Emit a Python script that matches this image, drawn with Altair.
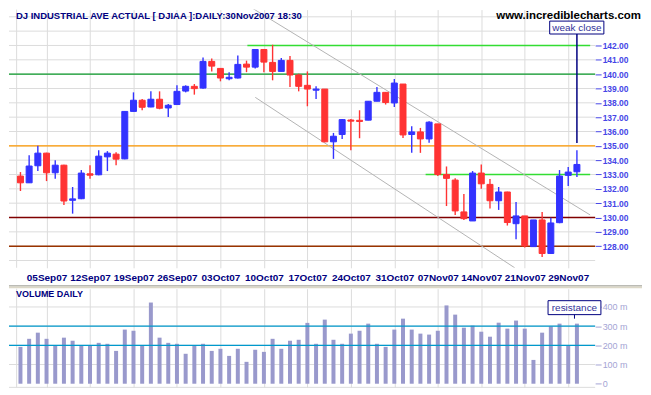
import altair as alt
import pandas as pd

# ---------------- data ----------------
tick_pos = [3, 8, 13, 18, 23, 28, 33, 38, 43, 48, 53, 58, 63]
tick_labels = ["05Sep07", "12Sep07", "19Sep07", "26Sep07", "03Oct07", "10Oct07",
               "17Oct07", "24Oct07", "31Oct07", "07Nov07", "14Nov07", "21Nov07", "29Nov07"]

opens = [132.89, 132.42, 133.61, 134.49, 133.12, 133.65, 131.20, 131.31, 133.05, 132.98,
         134.23, 134.42, 134.09, 137.40, 138.18, 137.71, 138.25, 137.64, 137.88, 138.82,
         139.15, 139.03, 140.89, 140.40, 139.68, 139.73, 140.70, 140.49, 141.72, 140.82,
         140.19, 140.96, 139.94, 139.22, 138.88, 138.96, 135.28, 135.79, 136.80, 136.78,
         136.79, 138.11, 138.73, 137.99, 139.31, 135.79, 135.97, 135.48, 136.53, 133.00,
         132.61, 130.39, 129.76, 133.10, 132.31, 131.17, 131.78, 129.57, 130.11, 127.97,
         129.83, 127.49, 129.64, 132.94, 133.19]
highs = [133.17, 134.35, 135.00, 134.52, 134.00, 133.68, 132.13, 133.31, 133.65, 134.70,
         134.63, 134.56, 137.40, 138.73, 138.27, 138.80, 138.80, 137.92, 139.22, 139.22,
         139.31, 141.17, 141.10, 140.40, 140.14, 141.30, 140.94, 141.72, 141.75, 142.05,
         141.12, 141.26, 140.03, 140.19, 139.15, 138.96, 135.90, 136.88, 136.88, 137.48,
         138.11, 139.10, 138.75, 139.66, 139.31, 136.37, 136.25, 136.71, 136.53, 133.56,
         132.73, 131.64, 133.24, 133.70, 132.68, 132.13, 131.80, 131.08, 130.11, 129.83,
         130.39, 129.99, 133.31, 133.52, 134.70]
lows = [131.85, 132.40, 133.24, 132.54, 132.70, 130.87, 130.27, 131.28, 132.70, 132.95,
        133.24, 133.65, 134.07, 137.40, 137.48, 137.69, 137.55, 137.01, 137.85, 138.73,
        138.57, 138.98, 140.19, 139.50, 139.57, 139.70, 140.14, 140.40, 140.14, 139.57,
        140.19, 139.10, 138.80, 137.76, 138.27, 135.25, 134.09, 135.48, 134.70, 135.53,
        136.79, 138.11, 137.88, 137.71, 135.55, 134.51, 134.51, 135.21, 132.89, 130.80,
        130.18, 129.83, 129.76, 132.01, 130.62, 130.53, 129.44, 128.49, 127.90, 127.97,
        127.25, 127.45, 129.60, 132.20, 132.82]
closes = [132.42, 133.59, 134.49, 133.12, 133.65, 131.15, 131.30, 133.10, 132.95, 134.28,
          134.49, 134.07, 137.40, 138.18, 137.69, 138.25, 137.62, 137.83, 138.80, 139.15,
          138.99, 140.89, 140.56, 139.73, 139.78, 140.68, 140.49, 141.72, 140.84, 140.19,
          140.96, 139.94, 139.15, 138.96, 138.96, 135.28, 135.67, 136.83, 136.72, 136.70,
          138.11, 138.73, 138.02, 139.38, 135.76, 135.97, 135.48, 136.65, 133.00, 132.73,
          130.46, 129.92, 133.10, 132.35, 131.17, 131.78, 129.65, 130.11, 128.02, 129.83,
          127.49, 129.62, 132.89, 133.17, 133.70]
volumes = [192, 234, 266, 234, 201, 240, 224, 201, 201, 213, 208, 171, 282, 276, 201, 423,
           240, 213, 208, 156, 201, 208, 171, 182, 145, 182, 114, 177, 166, 234, 182, 224,
           229, 317, 208, 334, 229, 208, 261, 276, 313, 208, 192, 282, 339, 282, 261, 256,
           276, 408, 360, 292, 303, 271, 245, 318, 287, 329, 287, 124, 266, 299, 313, 201, 313]

price_grid = [127, 128, 129, 130, 131, 132, 133, 134, 135, 136, 137, 138, 139, 140, 141, 142, 143, 144]
price_ticks = [128, 129, 130, 131, 132, 133, 134, 135, 136, 137, 138, 139, 140, 141, 142]
level_prices = [140, 135, 130, 128]
level_colors = ["#0a9a2a", "#ff9900", "#800000", "#993300"]
part_prices = [142, 133]
part_starts = [26.1, 46.6]
part_colors = ["#33dd33", "#33dd33"]
chan_seg = ["upper", "upper", "lower", "lower"]
chan_i = [25.43, 65.52, 27.01, 56.85]
chan_p = [145.06, 130.18, 138.38, 126.49]
vol_grid = [-19, 100, 200, 300, 400]
vol_ticks = [0, 100, 200, 300, 400]
vol_levels = [200, 300]

TITLE = "DJ INDUSTRIAL AVE ACTUAL [ DJIAA ]:DAILY:30Nov2007 18:30"
URL = "www.incrediblecharts.com"

# ---------------- layout / styles ----------------
X_DOM = [-0.744, 65.524]
P_DOM = [126.493, 144.503]
V_DOM = [-19.2, 495]
W, H_TOP, H_VOL = 588, 259, 99
FONT = "Liberation Sans"
BLUE, RED, NAVY = "#3333ff", "#ff3333", "#000080"
GRID = "#dcdcdc"

n = len(opens)
df = pd.DataFrame({"i": list(range(n)), "o": opens, "h": highs, "l": lows, "c": closes, "v": volumes})
df["dir"] = ["up" if c >= o else "down" for o, c in zip(opens, closes)]

label_expr = "[" + ",".join("'%s'" % s for s in tick_labels) + "][round((datum.value - 3) / 5)]"

xs = alt.Scale(domain=X_DOM, nice=False, zero=False)
x_axis_top = alt.Axis(values=tick_pos, labelExpr=label_expr, grid=True, gridColor=GRID, gridWidth=1,
                      ticks=False, tickSize=0, domain=False, labelFont=FONT, labelFontSize=10,
                      labelFontWeight="bold", labelColor=NAVY, labelPadding=5, title=None,
                      labelOverlap=False, labelFlush=False)
x_axis_vol = alt.Axis(values=tick_pos, grid=True, gridColor=GRID, gridWidth=1, ticks=False,
                      tickSize=0, domain=False, labels=False, title=None)
ps = alt.Scale(domain=P_DOM, nice=False, zero=False)
p_axis = alt.Axis(orient="right", values=price_ticks, format=".2f", grid=False, domain=False,
                  tickColor="#4646e6", tickSize=6, labelColor="#4646e6", labelFont=FONT,
                  labelFontSize=8.5, labelFontWeight="bold", labelPadding=1, title=None)
vs = alt.Scale(domain=V_DOM, nice=False, zero=False)
v_axis = alt.Axis(orient="right", values=vol_ticks,
                  labelExpr="datum.value == 0 ? '0' : datum.value + ' m'", grid=False,
                  domain=False, tickColor="#a4a4d4", tickSize=6, labelColor="#a4a4d4",
                  labelFont=FONT, labelFontSize=9, labelPadding=1, title=None)


def XT(f):
    return alt.X(f, type="quantitative", scale=xs, axis=x_axis_top)


def XV(f):
    return alt.X(f, type="quantitative", scale=xs, axis=x_axis_vol)


def YP(f):
    return alt.Y(f, type="quantitative", scale=ps, axis=p_axis)


def YV(f):
    return alt.Y(f, type="quantitative", scale=vs, axis=v_axis)


col = alt.Color("dir:N", scale=alt.Scale(domain=["up", "down"], range=[BLUE, RED]), legend=None)

# ---------------- top (price) panel ----------------
grid_df = pd.DataFrame({"p": price_grid})
hgrid = alt.Chart(grid_df).mark_rule(color=GRID, strokeWidth=1).encode(y=YP("p"))
border_df = pd.DataFrame({"i": [-0.44]})
vborder = alt.Chart(border_df).mark_rule(color=GRID, strokeWidth=1).encode(x=XT("i"))

lv_df = pd.DataFrame({"p": level_prices, "col": level_colors})
levels = alt.Chart(lv_df).mark_rule(strokeWidth=1.4).encode(
    y=YP("p"), color=alt.Color("col:N", scale=None))
pt_df = pd.DataFrame({"p": part_prices, "x0": part_starts, "x1": [X_DOM[1]] * 2, "col": part_colors})
partial = alt.Chart(pt_df).mark_rule(strokeWidth=1.4).encode(
    x=XT("x0"), x2="x1", y=YP("p"), color=alt.Color("col:N", scale=None))

ch_df = pd.DataFrame({"seg": chan_seg, "i": chan_i, "p": chan_p})
channel = alt.Chart(ch_df).mark_line(color="#b4b4b4", strokeWidth=1, clip=True).encode(
    x=XT("i"), y=YP("p"), detail="seg:N")

wicks = alt.Chart(df).mark_rule(strokeWidth=1.4).encode(x=XT("i"), y=YP("l"), y2="h", color=col)
bodies = alt.Chart(df).mark_bar(size=6, strokeWidth=1).encode(
    x=XT("i"), y=YP("o"), y2="c", color=col, stroke=col)

wc_df = pd.DataFrame({"i": [64], "p0": [135.2], "p1": [142.80]})
wc_line = alt.Chart(wc_df).mark_rule(color=NAVY, strokeWidth=1.5).encode(x=XT("i"), y=YP("p0"), y2="p1")
wcbox_df = pd.DataFrame({"x0": [60.87], "x1": [67.1], "p0": [143.70], "p1": [142.80],
                         "xc": [63.99], "pc": [143.25], "t": ["weak close"]})
wc_box = alt.Chart(wcbox_df).mark_rect(fill="white", stroke=NAVY, strokeWidth=1, clip=False).encode(
    x=XT("x0"), x2="x1", y=YP("p0"), y2="p1")
wc_text = alt.Chart(wcbox_df).mark_text(font=FONT, fontSize=10, color="#333399", align="center",
                                        baseline="middle").encode(x=XT("xc"), y=YP("pc"), text="t:N")

title_df = pd.DataFrame({"t": [TITLE]})
title = alt.Chart(title_df).mark_text(font=FONT, fontSize=9.5, fontWeight="bold", color=NAVY,
                                      align="left", baseline="top").encode(
    x=alt.value(7), y=alt.value(1), text="t:N")
url_df = pd.DataFrame({"t": [URL]})
url = alt.Chart(url_df).mark_text(font=FONT, fontSize=11.5, fontWeight="bold", color="black",
                                  align="right", baseline="alphabetic").encode(
    x=alt.value(634), y=alt.value(9.5), text="t:N")

top = alt.layer(hgrid, vborder, levels, partial, channel, wicks, bodies, wc_line, wc_box,
                wc_text, title, url).properties(width=W, height=H_TOP)

# ---------------- volume panel ----------------
vg_df = pd.DataFrame({"v": vol_grid})
vgrid = alt.Chart(vg_df).mark_rule(color=GRID, strokeWidth=1).encode(y=YV("v"))
vborder2 = alt.Chart(border_df).mark_rule(color=GRID, strokeWidth=1).encode(x=XV("i"))
vbars = alt.Chart(df).mark_bar(size=4, color="#9999cc").encode(x=XV("i"), y=YV("v"), y2=alt.datum(0))
vl_df = pd.DataFrame({"v": vol_levels})
vlevels = alt.Chart(vl_df).mark_rule(color="#0099cc", strokeWidth=1.4).encode(y=YV("v"))

vt_df = pd.DataFrame({"t": ["VOLUME DAILY"]})
vtitle = alt.Chart(vt_df).mark_text(font=FONT, fontSize=9, fontWeight="bold", color=NAVY,
                                    align="left", baseline="top").encode(
    x=alt.value(7), y=alt.value(1), text="t:N")

rs_df = pd.DataFrame({"x0": [60.68], "x1": [66.76], "v0": [432.7], "v1": [360.0],
                      "xc": [63.72], "vc": [396.0], "vp": [339.0], "t": ["resistance"]})
rs_box = alt.Chart(rs_df).mark_rect(fill="white", stroke=NAVY, strokeWidth=1, clip=False).encode(
    x=XV("x0"), x2="x1", y=YV("v0"), y2="v1")
rs_ptr = alt.Chart(rs_df).mark_rule(color=NAVY, strokeWidth=1).encode(x=XV("xc"), y=YV("v1"), y2="vp")
rs_text = alt.Chart(rs_df).mark_text(font=FONT, fontSize=10, color="#333399", align="center",
                                     baseline="middle").encode(x=XV("xc"), y=YV("vc"), text="t:N")

sep_df = pd.DataFrame({"k": [0]})
sep1 = alt.Chart(sep_df).mark_rule(color="#a8a8a0", strokeWidth=1).encode(
    x=alt.value(0), x2=alt.value(635), y=alt.value(-3))
sep2 = alt.Chart(sep_df).mark_rule(color="#dcd8c8", strokeWidth=2).encode(
    x=alt.value(0), x2=alt.value(635), y=alt.value(-1.5))

vol = alt.layer(vgrid, vborder2, vbars, vlevels, vtitle, rs_box, rs_ptr, rs_text, sep2,
                sep1).properties(width=W, height=H_VOL)

chart = alt.vconcat(top, vol, spacing=21, bounds="flush").properties(
    padding=0, background="white"
).configure_view(strokeWidth=0)

chart.save("out.html", embed_options={"renderer": "svg", "actions": False})
